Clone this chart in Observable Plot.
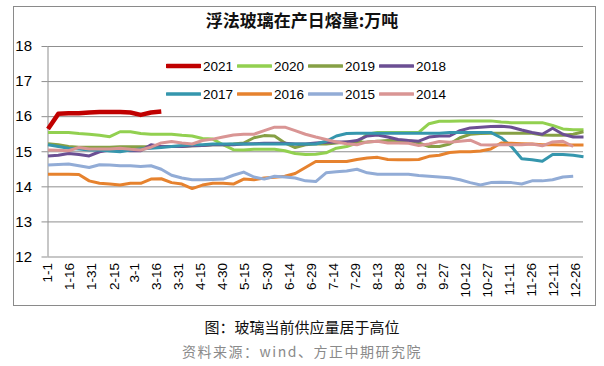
<!DOCTYPE html>
<html><head><meta charset="utf-8">
<script src="https://cdn.jsdelivr.net/npm/d3@7"></script>
<script src="https://cdn.jsdelivr.net/npm/@observablehq/plot@0.6"></script>
<style>
html,body{margin:0;padding:0;background:#fff;}
#wrap{position:relative;width:604px;height:366px;overflow:hidden;font-family:"Noto Sans CJK SC","Noto Sans",sans-serif;}
#frame{position:absolute;left:13px;top:6px;width:581px;height:298px;border:1px solid #8a8a8a;}
#title{position:absolute;left:0;width:604px;top:7px;text-align:center;font-size:17px;font-weight:bold;color:#111;}
#chart{position:absolute;left:0;top:0;}
#legend{position:absolute;left:166px;top:52px;width:300px;font-family:"Liberation Sans",Arial,sans-serif;font-size:13.5px;color:#000;}
.row{display:flex;height:28px;align-items:center;}
.item{width:71px;display:flex;align-items:center;}
.sw{width:35px;margin-right:2px;}
#cap{position:absolute;left:0;width:604px;top:316px;text-align:center;font-size:15px;color:#111;}
#src{position:absolute;left:0;width:604px;top:341px;text-align:center;font-size:14px;color:#8a8a8a;letter-spacing:1.5px;}
</style></head>
<body>
<div id="wrap">
  <div id="frame"></div>
  <div id="chart"></div>
  <div id="title">浮法玻璃在产日熔量:万吨</div>
  <div id="legend"></div>
  <div id="cap">图：玻璃当前供应量居于高位</div>
  <div id="src">资料来源：wind、方正中期研究院</div>
</div>
<script>
const years = ["2021","2020","2019","2018","2017","2016","2015","2014"];
const colors = ["#c00000","#92d050","#86a045","#6b4f93","#3596ad","#e6822e","#92acd6","#d99594"];
const tickLabels = ["1-1","1-16","1-31","2-15","3-1","3-16","3-31","4-15","4-30","5-15","5-30","6-14","6-29","7-14","7-29","8-13","8-28","9-12","9-27","10-12","10-27","11-11","11-26","12-11","12-26"];
const yTicks = [12,13,14,15,16,17,18];

const v2021 = [15.65,16.08,16.1,16.1,16.12,16.13,16.13,16.13,16.12,16.05,16.12,16.15];
const v2020 = [15.55,15.55,15.55,15.52,15.5,15.47,15.43,15.57,15.57,15.52,15.5,15.5,15.5,15.47,15.45,15.38,15.36,15.2,15.06,15.05,15.07,15.07,15.07,15.03,14.95,14.92,14.93,14.97,15.1,15.15,15.25,15.5,15.55,15.55,15.55,15.55,15.55,15.8,15.87,15.87,15.88,15.88,15.88,15.88,15.85,15.83,15.83,15.83,15.83,15.75,15.65,15.63,15.63];
const v2019 = [15.23,15.2,15.15,15.13,15.13,15.13,15.13,15.14,15.14,15.14,15.14,15.15,15.15,15.15,15.17,15.18,15.2,15.2,15.22,15.25,15.4,15.46,15.45,15.25,15.12,15.2,15.22,15.22,15.25,15.28,15.27,15.28,15.3,15.32,15.33,15.32,15.25,15.15,15.15,15.22,15.4,15.5,15.52,15.53,15.53,15.53,15.53,15.53,15.48,15.47,15.47,15.5,15.57];
const v2018 = [14.88,14.9,14.95,14.92,14.88,15.0,15.05,15.05,15.03,15.03,15.2,15.15,15.15,15.15,15.17,15.18,15.2,15.2,15.2,15.22,15.23,15.24,15.24,15.24,15.22,15.22,15.25,15.27,15.28,15.28,15.32,15.45,15.48,15.42,15.35,15.32,15.3,15.42,15.45,15.45,15.6,15.68,15.7,15.72,15.73,15.7,15.62,15.55,15.5,15.67,15.5,15.42,15.42];
const v2017 = [15.2,15.15,15.1,15.08,15.05,15.05,15.02,15.0,15.05,15.08,15.1,15.12,15.15,15.18,15.2,15.2,15.22,15.22,15.22,15.22,15.22,15.22,15.22,15.22,15.22,15.22,15.22,15.3,15.45,15.52,15.53,15.53,15.53,15.53,15.53,15.53,15.53,15.53,15.53,15.55,15.55,15.55,15.55,15.55,15.4,15.15,14.8,14.77,14.73,14.92,14.92,14.9,14.86];
const v2016 = [14.36,14.36,14.36,14.35,14.17,14.1,14.08,14.05,14.1,14.1,14.22,14.23,14.12,14.08,13.95,14.05,14.1,14.1,14.08,14.22,14.2,14.25,14.27,14.3,14.38,14.55,14.72,14.72,14.72,14.72,14.78,14.82,14.84,14.78,14.77,14.77,14.78,14.87,14.9,14.98,15.0,15.0,15.02,15.08,15.25,15.24,15.23,15.22,15.2,15.2,15.19,15.19,15.19];
const v2015 = [14.62,14.64,14.65,14.6,14.55,14.63,14.62,14.6,14.6,14.58,14.6,14.5,14.33,14.25,14.2,14.2,14.21,14.22,14.33,14.42,14.28,14.22,14.3,14.28,14.25,14.17,14.15,14.4,14.43,14.45,14.5,14.4,14.36,14.36,14.36,14.36,14.32,14.3,14.28,14.26,14.2,14.12,14.05,14.12,14.13,14.12,14.08,14.17,14.17,14.2,14.28,14.3];
const v2014 = [15.05,15.04,15.03,15.12,15.08,15.08,15.08,15.1,15.07,15.05,15.13,15.25,15.29,15.25,15.22,15.32,15.36,15.42,15.48,15.5,15.5,15.6,15.7,15.7,15.6,15.5,15.42,15.35,15.28,15.23,15.2,15.28,15.3,15.25,15.25,15.24,15.18,15.22,15.29,15.27,15.3,15.33,15.2,15.19,15.2,15.2,15.2,15.22,15.17,15.28,15.3,15.15];

const seriesValues = [v2021,v2020,v2019,v2018,v2017,v2016,v2015,v2014];

// day of year for "m-d"
const base = new Date(2021,0,1);
const dayOf = s => { const [m,d] = s.split("-").map(Number); return d3.timeDay.count(base, new Date(2021,m-1,d)) + 1; };
const tickDays = tickLabels.map(dayOf);
const labelByDay = new Map(tickDays.map((d,i)=>[d,tickLabels[i]]));

// weekly observations, starting Jan 1
const rows = [];
years.forEach((y,k)=>{ seriesValues[k].forEach((v,i)=>rows.push({year:y, day:1+7*i, value:v})); });

const lineMarks = years.map(y => Plot.line(rows.filter(r=>r.year===y), {
  x:"day", y:"value", stroke:"year", strokeWidth: y==="2021"?4.5:3, strokeLinejoin:"round", strokeLinecap: "butt"
}));

const chart = Plot.plot({
  width:604, height:310,
  marginLeft:47.5, marginRight:21, marginTop:46, marginBottom:53.5,
  x:{domain:[1,365]},
  y:{domain:[12,18]},
  color:{domain:years, range:colors},
  style:{fontFamily:"Liberation Sans, Arial, sans-serif", fontSize:"13px", color:"#000", background:"transparent", overflow:"visible"},
  marks:[
    Plot.gridY(yTicks, {stroke:"#8f8f8f", strokeOpacity:1, strokeWidth:1}),
    Plot.axisY(yTicks, {tickSize:6, tickPadding:10, fontSize:15, stroke:"#8f8f8f", fill:"#000", label:null}),
    Plot.ruleX([1], {stroke:"#8f8f8f"}),
    Plot.axisX(tickDays, {tickRotate:-90, tickSize:0, tickPadding:6, fontSize:13.5, fill:"#000", tickFormat:d=>labelByDay.get(d), label:null}),
    ...lineMarks
  ]
});
document.getElementById("chart").appendChild(chart);

// legend
const leg = document.getElementById("legend");
for (let r=0;r<2;r++){
  const row = document.createElement("div"); row.className="row";
  for (let c=0;c<4;c++){
    const k = r*4+c;
    const it = document.createElement("div"); it.className="item";
    const w = k===0?4.5:3.5;
    it.innerHTML = `<svg class="sw" width="35" height="8"><line x1="1" x2="34" y1="4" y2="4" stroke="${colors[k]}" stroke-width="${w}" stroke-linecap="round"/></svg><span>${years[k]}</span>`;
    row.appendChild(it);
  }
  leg.appendChild(row);
}
</script>
</body></html>
